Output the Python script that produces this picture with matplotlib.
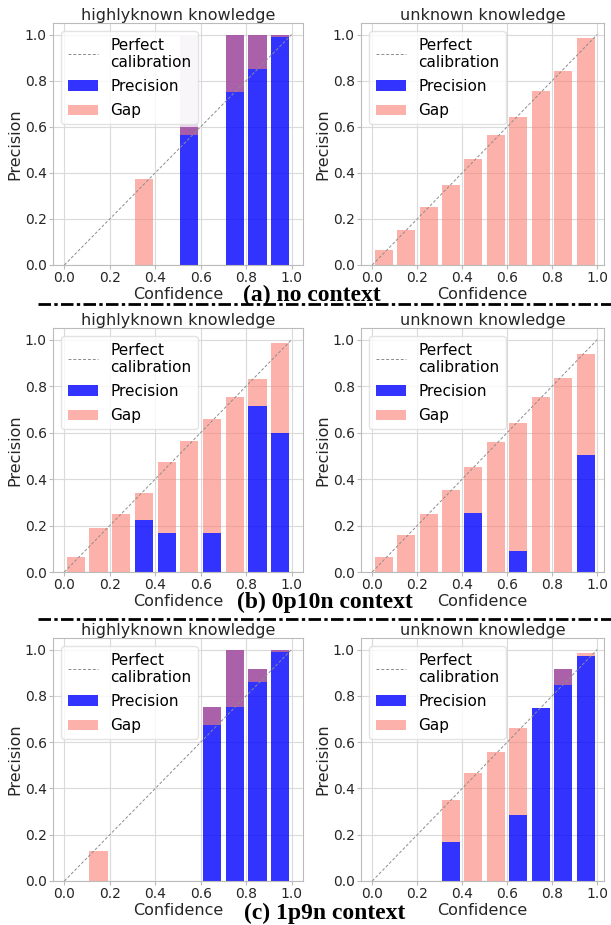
import numpy as np
import matplotlib
matplotlib.use('Agg')
import matplotlib.pyplot as plt
from matplotlib.lines import Line2D

nan = np.nan

# bin centres of the 10 confidence bins
bin_centers = [0.05, 0.15, 0.25, 0.35, 0.45, 0.55, 0.65, 0.75, 0.85, 0.95]

# (a) no context
a_hk_prec = [nan, nan, nan, 0.0, nan, 0.60, nan, 1.0, 1.0, 1.0]
a_hk_conf = [nan, nan, nan, 0.375, nan, 0.562, nan, 0.75, 0.85, 0.99]
a_un_prec = [0, 0, 0, 0, 0, 0, 0, 0, 0, 0]
a_un_conf = [0.065, 0.153, 0.25, 0.349, 0.458, 0.563, 0.64, 0.753, 0.84, 0.983]
# faint bar seen above one bin of (a) highlyknown
a_hk_shade_bin = 5
a_hk_shade_top = 1.0

# (b) 0p10n context
b_hk_prec = [0, 0, 0, 0.225, 0.168, 0, 0.168, 0, 0.715, 0.598]
b_hk_conf = [0.064, 0.188, 0.249, 0.339, 0.474, 0.563, 0.658, 0.751, 0.83, 0.986]
b_un_prec = [0, 0, 0, 0, 0.252, 0, 0.092, 0, 0, 0.502]
b_un_conf = [0.063, 0.158, 0.25, 0.355, 0.453, 0.561, 0.642, 0.751, 0.833, 0.938]

# (c) 1p9n context
c_hk_prec = [nan, 0.0, nan, nan, nan, nan, 0.75, 1.0, 0.914, 1.0]
c_hk_conf = [nan, 0.129, nan, nan, nan, nan, 0.674, 0.753, 0.86, 0.988]
c_un_prec = [nan, nan, nan, 0.167, 0.0, 0.0, 0.284, 0.748, 0.914, 0.971]
c_un_conf = [nan, nan, nan, 0.349, 0.468, 0.559, 0.659, 0.748, 0.848, 0.986]

captions = ['(a) no context', '(b) 0p10n context', '(c) 1p9n context']
titles = ['highlyknown knowledge', 'unknown knowledge']

plt.rcParams['font.family'] = ['DejaVu Sans']
plt.rcParams['axes.edgecolor'] = '#bbbbbb'
plt.rcParams['xtick.color'] = '#bbbbbb'
plt.rcParams['ytick.color'] = '#bbbbbb'
plt.rcParams['xtick.labelcolor'] = '#262626'
plt.rcParams['ytick.labelcolor'] = '#262626'

W, H = 611, 925
fig = plt.figure(figsize=(W / 100, H / 100), dpi=100)

# pixel boxes: left, right, top, bottom
cols_px = [(53, 303), (361, 604)]
rows_px = [(23, 265), (328, 572), (638, 881)]

panels = [
    [(a_hk_prec, a_hk_conf), (a_un_prec, a_un_conf)],
    [(b_hk_prec, b_hk_conf), (b_un_prec, b_un_conf)],
    [(c_hk_prec, c_hk_conf), (c_un_prec, c_un_conf)],
]

width = 0.08
for r in range(3):
    for c in range(2):
        l, rr = cols_px[c]
        t, b = rows_px[r]
        ax = fig.add_axes([l / W, 1 - b / H, (rr - l) / W, (b - t) / H])
        prec = np.array(panels[r][c][0], dtype=float)
        conf = np.array(panels[r][c][1], dtype=float)
        x = np.array(bin_centers)
        m = ~np.isnan(conf)

        ax.plot([0, 1], [0, 1], linestyle=(0, (3, 2)), color='#8c8c8c', lw=0.7,
                zorder=5, label='Perfect\ncalibration')
        if r == 0 and c == 0:
            k = a_hk_shade_bin
            ax.bar(x[k], a_hk_shade_top - conf[k], bottom=conf[k], width=width,
                   color='#e6d6e8', zorder=2)
        ax.bar(x[m], prec[m], width=width, color='b', alpha=0.8, zorder=2,
               label='Precision')
        ax.bar(x[m], np.abs(conf[m] - prec[m]), bottom=np.minimum(conf[m], prec[m]),
               width=width, color='salmon', alpha=0.6, zorder=3, label='Gap')

        ax.set_xlim(-0.05, 1.05 if c == 0 else 1.03)
        ax.set_ylim(0, 1.05)
        ax.set_xticks([0, 0.2, 0.4, 0.6, 0.8, 1.0])
        ax.set_yticks([0, 0.2, 0.4, 0.6, 0.8, 1.0])
        ax.tick_params(labelsize=10, length=3, width=0.8, pad=1.5)
        ax.grid(True, color='#dadada', lw=0.8)
        ax.set_axisbelow(True)
        ax.set_title(titles[c], fontsize=11.5, pad=2.5, color='#262626')
        ax.set_xlabel('Confidence', fontsize=11.5, labelpad=1, color='#262626')
        ax.set_ylabel('Precision', fontsize=11.5, labelpad=2, color='#262626')
        leg = ax.legend(loc='upper left', fontsize=11, framealpha=0.8,
                        borderaxespad=0.55, labelspacing=0.6)
        leg.get_frame().set_edgecolor('#dddddd')

cap_x = [312, 325, 325]
cap_y = [295, 602, 913]
for i in range(3):
    fig.text(cap_x[i] / W, 1 - cap_y[i] / H, captions[i], ha='center', va='center',
             fontsize=17, fontweight='bold', family='Liberation Serif')

for y in [304, 619]:
    fig.add_artist(Line2D([38 / W, 1.0], [1 - y / H, 1 - y / H], color='black',
                          lw=2.0, linestyle=(0, (4.5, 1.2, 1.2, 1.2))))

fig.savefig('out.png', dpi=100)
